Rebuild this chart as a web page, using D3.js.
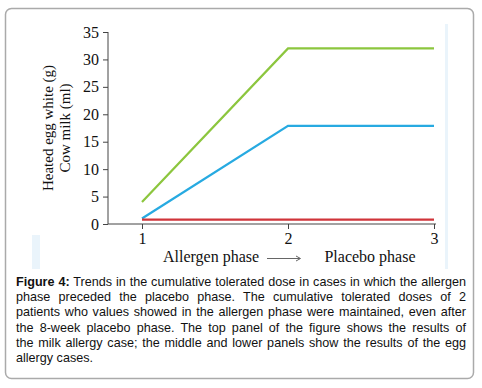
<!DOCTYPE html>
<html>
<head>
<meta charset="utf-8">
<script src="https://cdn.jsdelivr.net/npm/d3@7"></script>
<style>
  body { margin: 0; background: #fff; }
  #wrap { position: relative; width: 482px; height: 388px; }
  #caption {
    position: absolute; left: 16px; top: 275px; width: 450px;
    font-family: "Liberation Sans", Arial, sans-serif; font-size: 12.6px;
    line-height: 15.2px; color: #111;
  }
  #caption div { white-space: nowrap; text-align: justify; text-align-last: justify; }
  #caption div.last { text-align-last: left; }
</style>
</head>
<body>
<div id="wrap">
  <div id="chart"></div>
  <div id="caption">
    <div><b>Figure 4:</b> Trends in the cumulative tolerated dose in cases in which the allergen</div>
    <div>phase preceded the placebo phase. The cumulative tolerated doses of 2</div>
    <div>patients who values showed in the allergen phase were maintained, even after</div>
    <div>the 8-week placebo phase. The top panel of the figure shows the results of</div>
    <div>the milk allergy case; the middle and lower panels show the results of the egg</div>
    <div class="last">allergy cases.</div>
  </div>
</div>
<script>
// data
var phases = [1, 2, 3];
var greenValues = [4, 32, 32];
var blueValues = [1, 17.9, 17.9];
var redValues = [0.8, 0.8, 0.8];
var yTicks = [0, 5, 10, 15, 20, 25, 30, 35];
var seriesColors = ["#8cc63e", "#27aae1", "#d0343a"];

var width = 482, height = 388;

var svg = d3.select("#chart")
    .append("svg")
    .attr("width", width)
    .attr("height", height);

// outer box
svg.append("rect")
    .attr("x", 5.5).attr("y", 8.5)
    .attr("width", 468).attr("height", 370)
    .attr("rx", 6)
    .attr("fill", "none")
    .attr("stroke", "#aaa")
    .attr("stroke-width", 1.5);

// faint blue strips from the scanned figure
svg.append("rect").attr("x", 32).attr("y", 235).attr("width", 8).attr("height", 34).attr("fill", "#eaf4fb");
svg.append("rect").attr("x", 445).attr("y", 24).attr("width", 3).attr("height", 245).attr("fill", "#eaf4fb");

var x = d3.scaleLinear().domain([1, 3]).range([142, 434]);
var y = d3.scaleLinear().domain([0, 35]).range([224, 32]);

// y axis
var yAxis = svg.append("g")
    .attr("transform", "translate(108,0)")
    .call(d3.axisLeft(y).tickValues(yTicks).tickSize(5).tickPadding(4));
yAxis.select(".domain").attr("d", "M0," + y(35) + "V" + y(0));

// x axis
var xAxis = svg.append("g")
    .attr("transform", "translate(0," + y(0) + ")")
    .call(d3.axisBottom(x).tickValues(phases).tickFormat(d3.format("d")).tickSize(5).tickPadding(4));
xAxis.select(".domain").attr("d", "M108,0H436");

svg.selectAll(".tick text")
    .style("font-family", "'Liberation Serif', 'Times New Roman', serif")
    .style("font-size", "16px")
    .attr("fill", "#111");
svg.selectAll(".domain, .tick line").attr("stroke", "#444");

// lines
var line = d3.line()
    .x((d, i) => x(phases[i]))
    .y(d => y(d));

[greenValues, blueValues, redValues].forEach(function(vals, i) {
    svg.append("path")
        .datum(vals)
        .attr("fill", "none")
        .attr("stroke", seriesColors[i])
        .attr("stroke-width", 2.2)
        .attr("d", line);
});

// axis title
var serif = "'Liberation Serif', 'Times New Roman', serif";
[["Heated egg white (g)", 53], ["Cow milk (ml)", 70]].forEach(function(t) {
    svg.append("text")
        .attr("transform", "translate(" + t[1] + ",128) rotate(-90)")
        .attr("text-anchor", "middle")
        .style("font-family", serif)
        .style("font-size", "15px")
        .attr("fill", "#111")
        .text(t[0]);
});

// phase labels
svg.append("text").attr("x", 211).attr("y", 262).attr("text-anchor", "middle")
    .style("font-family", serif).style("font-size", "16px").attr("fill", "#111")
    .text("Allergen phase");
svg.append("text").attr("x", 370).attr("y", 262).attr("text-anchor", "middle")
    .style("font-family", serif).style("font-size", "16px").attr("fill", "#111")
    .text("Placebo phase");
// arrow between the phase labels
svg.append("path")
    .attr("d", "M267,258.5H300M296,256L300.5,258.5L296,261")
    .attr("fill", "none")
    .attr("stroke", "#666")
    .attr("stroke-width", 1);
</script>
</body>
</html>
